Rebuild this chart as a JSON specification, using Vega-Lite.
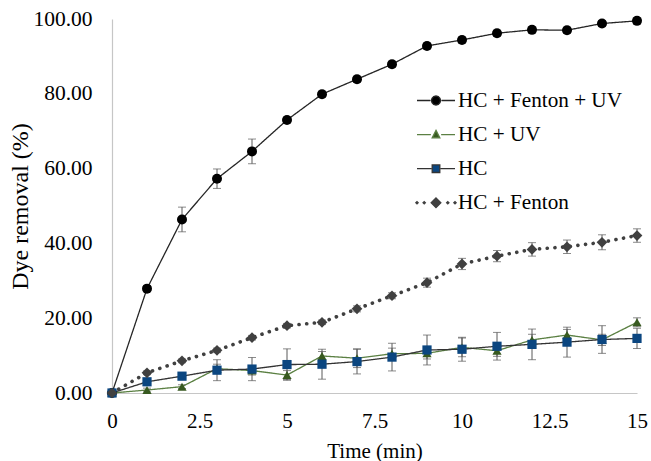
{
  "$schema": "https://vega.github.io/schema/vega-lite/v6.json",
  "width": 525,
  "height": 374,
  "autosize": {"type": "none"},
  "padding": {"left": 112, "top": 19, "right": 14, "bottom": 68},
  "background": "white",
  "config": {
    "font": "Liberation Serif",
    "view": {"stroke": null},
    "style": {
      "guide-label": {"font": "Liberation Serif"},
      "guide-title": {"font": "Liberation Serif"}
    },
    "axis": {
      "labelFont": "Liberation Serif",
      "titleFont": "Liberation Serif",
      "labelColor": "#000000",
      "titleColor": "#000000",
      "titleFontWeight": "normal",
      "grid": false,
      "ticks": false,
      "labelOverlap": false,
      "domainColor": "#c6c6c6",
      "domainWidth": 1.2
    },
    "legend": {
      "labelFont": "Liberation Serif",
      "labelColor": "#000000"
    }
  },
  "data": {
    "values": [
      {"t": 0, "y": 0, "err": 0, "series": "HC + Fenton + UV"},
      {"t": 1, "y": 27.9, "err": 0.8, "series": "HC + Fenton + UV"},
      {"t": 2, "y": 46.4, "err": 3.3, "series": "HC + Fenton + UV"},
      {"t": 3, "y": 57.3, "err": 2.6, "series": "HC + Fenton + UV"},
      {"t": 4, "y": 64.6, "err": 3.3, "series": "HC + Fenton + UV"},
      {"t": 5, "y": 73.0, "err": 0.8, "series": "HC + Fenton + UV"},
      {"t": 6, "y": 79.9, "err": 0.8, "series": "HC + Fenton + UV"},
      {"t": 7, "y": 83.9, "err": 0.8, "series": "HC + Fenton + UV"},
      {"t": 8, "y": 87.9, "err": 0.8, "series": "HC + Fenton + UV"},
      {"t": 9, "y": 92.8, "err": 0.8, "series": "HC + Fenton + UV"},
      {"t": 10, "y": 94.4, "err": 0.8, "series": "HC + Fenton + UV"},
      {"t": 11, "y": 96.2, "err": 0.8, "series": "HC + Fenton + UV"},
      {"t": 12, "y": 97.1, "err": 0.8, "series": "HC + Fenton + UV"},
      {"t": 13, "y": 97.0, "err": 0.8, "series": "HC + Fenton + UV"},
      {"t": 14, "y": 98.8, "err": 0.8, "series": "HC + Fenton + UV"},
      {"t": 15, "y": 99.5, "err": 0.8, "series": "HC + Fenton + UV"},
      {"t": 0, "y": 0, "err": 0, "series": "HC + UV"},
      {"t": 1, "y": 0.8, "err": 0.5, "series": "HC + UV"},
      {"t": 2, "y": 1.7, "err": 0.5, "series": "HC + UV"},
      {"t": 3, "y": 6.5, "err": 1.2, "series": "HC + UV"},
      {"t": 4, "y": 6.0, "err": 1.2, "series": "HC + UV"},
      {"t": 5, "y": 4.8, "err": 1.2, "series": "HC + UV"},
      {"t": 6, "y": 9.9, "err": 1.2, "series": "HC + UV"},
      {"t": 7, "y": 9.3, "err": 2.5, "series": "HC + UV"},
      {"t": 8, "y": 10.5, "err": 1.5, "series": "HC + UV"},
      {"t": 9, "y": 10.6, "err": 1.5, "series": "HC + UV"},
      {"t": 10, "y": 12.2, "err": 2.5, "series": "HC + UV"},
      {"t": 11, "y": 11.3, "err": 1.5, "series": "HC + UV"},
      {"t": 12, "y": 14.2, "err": 1.5, "series": "HC + UV"},
      {"t": 13, "y": 15.5, "err": 1.5, "series": "HC + UV"},
      {"t": 14, "y": 14.2, "err": 1.5, "series": "HC + UV"},
      {"t": 15, "y": 18.9, "err": 1.2, "series": "HC + UV"},
      {"t": 0, "y": 0, "err": 0, "series": "HC"},
      {"t": 1, "y": 3.0, "err": 0.8, "series": "HC"},
      {"t": 2, "y": 4.5, "err": 0.8, "series": "HC"},
      {"t": 3, "y": 6.1, "err": 2.8, "series": "HC"},
      {"t": 4, "y": 6.4, "err": 3.1, "series": "HC"},
      {"t": 5, "y": 7.6, "err": 4.2, "series": "HC"},
      {"t": 6, "y": 7.7, "err": 4.0, "series": "HC"},
      {"t": 7, "y": 8.4, "err": 3.3, "series": "HC"},
      {"t": 8, "y": 9.6, "err": 3.7, "series": "HC"},
      {"t": 9, "y": 11.5, "err": 4.0, "series": "HC"},
      {"t": 10, "y": 11.7, "err": 3.2, "series": "HC"},
      {"t": 11, "y": 12.5, "err": 3.7, "series": "HC"},
      {"t": 12, "y": 13.0, "err": 4.1, "series": "HC"},
      {"t": 13, "y": 13.6, "err": 4.0, "series": "HC"},
      {"t": 14, "y": 14.3, "err": 3.7, "series": "HC"},
      {"t": 15, "y": 14.6, "err": 2.7, "series": "HC"},
      {"t": 0, "y": 0, "err": 0, "series": "HC + Fenton"},
      {"t": 1, "y": 5.4, "err": 0.5, "series": "HC + Fenton"},
      {"t": 2, "y": 8.6, "err": 0.5, "series": "HC + Fenton"},
      {"t": 3, "y": 11.4, "err": 0.6, "series": "HC + Fenton"},
      {"t": 4, "y": 14.8, "err": 0.6, "series": "HC + Fenton"},
      {"t": 5, "y": 18.0, "err": 0.6, "series": "HC + Fenton"},
      {"t": 6, "y": 18.9, "err": 0.6, "series": "HC + Fenton"},
      {"t": 7, "y": 22.5, "err": 0.8, "series": "HC + Fenton"},
      {"t": 8, "y": 26.0, "err": 0.8, "series": "HC + Fenton"},
      {"t": 9, "y": 29.5, "err": 1.2, "series": "HC + Fenton"},
      {"t": 10, "y": 34.5, "err": 1.5, "series": "HC + Fenton"},
      {"t": 11, "y": 36.6, "err": 1.5, "series": "HC + Fenton"},
      {"t": 12, "y": 38.4, "err": 1.8, "series": "HC + Fenton"},
      {"t": 13, "y": 39.1, "err": 1.8, "series": "HC + Fenton"},
      {"t": 14, "y": 40.3, "err": 2.0, "series": "HC + Fenton"},
      {"t": 15, "y": 42.1, "err": 1.8, "series": "HC + Fenton"}
    ]
  },
  "encoding": {
    "x": {
      "field": "t",
      "type": "quantitative",
      "scale": {"domain": [0, 15], "nice": false},
      "axis": {
        "title": "Time (min)",
        "values": [0, 2.5, 5, 7.5, 10, 12.5, 15],
        "format": ".1~f",
        "labelFont": "Liberation Serif",
        "titleFont": "Liberation Serif",
        "labelFontSize": 21,
        "titleFontSize": 21,
        "labelPadding": 17,
        "titlePadding": 9,
        "labelFlush": false
      }
    }
  },
  "layer": [
    {
      "mark": {"type": "errorbar", "ticks": {"size": 8, "color": "#595959"}, "color": "#595959", "thickness": 1},
      "encoding": {
        "y": {
          "field": "y",
          "type": "quantitative",
          "scale": {"domain": [0, 100], "nice": false},
          "axis": {
            "title": "Dye removal (%)",
            "values": [0, 10, 20, 30, 40, 50, 60, 70, 80, 90, 100],
            "format": ".2f",
            "labelFont": "Liberation Serif",
            "titleFont": "Liberation Serif",
            "labelFontSize": 21.5,
            "titleFontSize": 24,
            "labelPadding": 20,
            "titlePadding": 0
          }
        },
        "yError": {"field": "err"},
        "detail": {"field": "series"}
      }
    },
    {
      "mark": {"type": "line", "strokeCap": "round"},
      "encoding": {
        "y": {"field": "y", "type": "quantitative"},
        "stroke": {
          "field": "series",
          "type": "nominal",
          "scale": {
            "domain": ["HC + Fenton + UV", "HC + UV", "HC", "HC + Fenton"],
            "range": ["#262626", "#5b8043", "#333333", "#404040"]
          },
          "legend": null
        },
        "strokeWidth": {
          "condition": {"test": "datum.series === 'HC + Fenton'", "value": 3.6},
          "value": 1.3
        },
        "strokeDash": {
          "condition": {"test": "datum.series === 'HC + Fenton'", "value": [0.1, 7.6]},
          "value": [1, 0]
        }
      }
    },
    {
      "mark": {"type": "point", "filled": true, "opacity": 1, "strokeWidth": 0},
      "encoding": {
        "y": {"field": "y", "type": "quantitative"},
        "fill": {
          "field": "series",
          "type": "nominal",
          "scale": {
            "domain": ["HC + Fenton + UV", "HC + UV", "HC", "HC + Fenton"],
            "range": ["#000000", "#385a20", "#0b4680", "#404040"]
          },
          "legend": null
        },
        "shape": {
          "field": "series",
          "type": "nominal",
          "scale": {
            "domain": ["HC + Fenton + UV", "HC + UV", "HC", "HC + Fenton"],
            "range": ["circle", "triangle-up", "square", "diamond"]
          },
          "legend": null
        },
        "size": {
          "condition": [
            {"test": "datum.series === 'HC + Fenton'", "value": 115},
            {"test": "datum.series === 'HC + Fenton + UV'", "value": 100}
          ],
          "value": 85
        }
      }
    },
    {
      "transform": [{"filter": "false"}],
      "mark": {"type": "point", "filled": true, "opacity": 1},
      "encoding": {
        "y": {"field": "y", "type": "quantitative"},
        "fill": {
          "field": "series",
          "type": "nominal",
          "legend": {
            "title": null,
            "orient": "none",
            "legendX": 304,
            "legendY": 61.5,
            "padding": 0,
            "symbolSize": 1444,
            "symbolStrokeWidth": 1.3,
            "symbolOpacity": 1,
            "symbolOffset": 0,
            "rowPadding": 3.1,
            "labelFont": "Liberation Serif",
            "labelFontSize": 21.2,
            "labelOffset": 2,
            "labelLimit": 400
          }
        },
        "stroke": {"field": "series", "type": "nominal"},
        "shape": {
          "field": "series",
          "type": "nominal",
          "scale": {
            "domain": ["HC + Fenton + UV", "HC + UV", "HC", "HC + Fenton"],
            "range": [
              "M-1,0L-0.29,0M0.29,0L1,0M0.24,0L0.208,0.12L0.12,0.208L0,0.24L-0.12,0.208L-0.208,0.12L-0.24,0L-0.208,-0.12L-0.12,-0.208L0,-0.24L0.12,-0.208L0.208,-0.12Z",
              "M-1,0L-0.27,0M0.27,0L1,0M0,-0.22L0.2,0.17L-0.2,0.17Z",
              "M-1,0L-0.24,0M0.24,0L1,0M-0.2,-0.2L0.2,-0.2L0.2,0.2L-0.2,0.2Z",
              "M-1.06,0L-1,-0.06L-0.94,0L-1,0.06ZM-0.68,0L-0.62,-0.06L-0.56,0L-0.62,0.06ZM0.56,0L0.62,-0.06L0.68,0L0.62,0.06ZM0.94,0L1,-0.06L1.06,0L1,0.06ZM0,-0.255L0.255,0L0,0.255L-0.255,0Z"
            ]
          }
        }
      }
    }
  ],
  "resolve": {
    "scale": {"shape": "independent"},
    "legend": {"fill": "independent", "stroke": "independent", "shape": "independent"}
  }
}
